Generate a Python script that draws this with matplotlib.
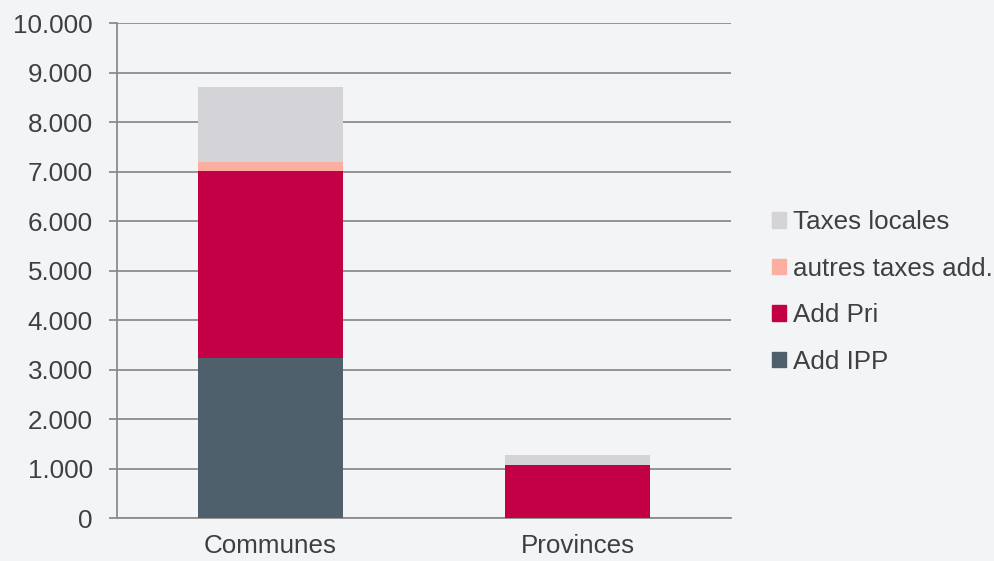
import matplotlib.pyplot as plt
from matplotlib.ticker import FuncFormatter
from matplotlib.patches import Patch

plt.rcParams['font.family'] = ['Liberation Sans', 'DejaVu Sans']

categories = ['Communes', 'Provinces']
add_ipp = [3240, 0]
add_pri = [3780, 1070]
autres_taxes = [180, 0]
taxes_locales = [1500, 200]

series_names = ['Add IPP', 'Add Pri', 'autres taxes add.', 'Taxes locales']
colors = ['#4f606d', '#c30045', '#fcafa0', '#d4d4d8']

fig = plt.figure(figsize=(9.95, 5.61), dpi=100)
fig.patch.set_facecolor('#f3f4f6')
ax = fig.add_axes([0.1176, 0.0766, 0.6171, 0.8824])
ax.set_facecolor('#f3f4f6')

x = range(len(categories))
bottom = [0, 0]
for vals, col in zip([add_ipp, add_pri, autres_taxes, taxes_locales], colors):
    ax.bar(x, vals, width=0.475, bottom=bottom, color=col, zorder=3)
    bottom = [b + v for b, v in zip(bottom, vals)]

ax.set_xlim(-0.5, 1.5)
ax.set_ylim(0, 10000)
ax.set_yticks(range(0, 10001, 1000))
ax.yaxis.set_major_formatter(FuncFormatter(lambda v, p: f'{int(v):,}'.replace(',', '.')))
ax.set_xticks(list(x))
ax.set_xticklabels(categories)

ax.grid(axis='y', color='#8c8c8c', linewidth=1.3, zorder=0)
for s in ['top', 'right']:
    ax.spines[s].set_visible(False)
ax.spines['left'].set_color('#8c8c8c')
ax.spines['bottom'].set_color('#8c8c8c')
ax.spines['left'].set_linewidth(1.3)
ax.spines['bottom'].set_linewidth(1.3)
ax.tick_params(axis='y', length=5.8, color='#8c8c8c', width=1.3, labelsize=18.7, labelcolor='#3f3f3f', pad=11.5)
ax.tick_params(axis='x', length=0, labelsize=18.7, labelcolor='#3f3f3f', pad=11.5)

handles = [Patch(color=c, label=n) for c, n in zip(colors, series_names)][::-1]
leg = fig.legend(handles=handles, loc='upper left', bbox_to_anchor=(0.7759, 0.6257),
                 frameon=False, fontsize=18.7, handlelength=0.54, handleheight=0.54,
                 handletextpad=0.26, labelspacing=0.87, borderaxespad=0, borderpad=0)
for t in leg.get_texts():
    t.set_color('#3f3f3f')

plt.savefig('out.png', dpi=100, facecolor=fig.get_facecolor())
